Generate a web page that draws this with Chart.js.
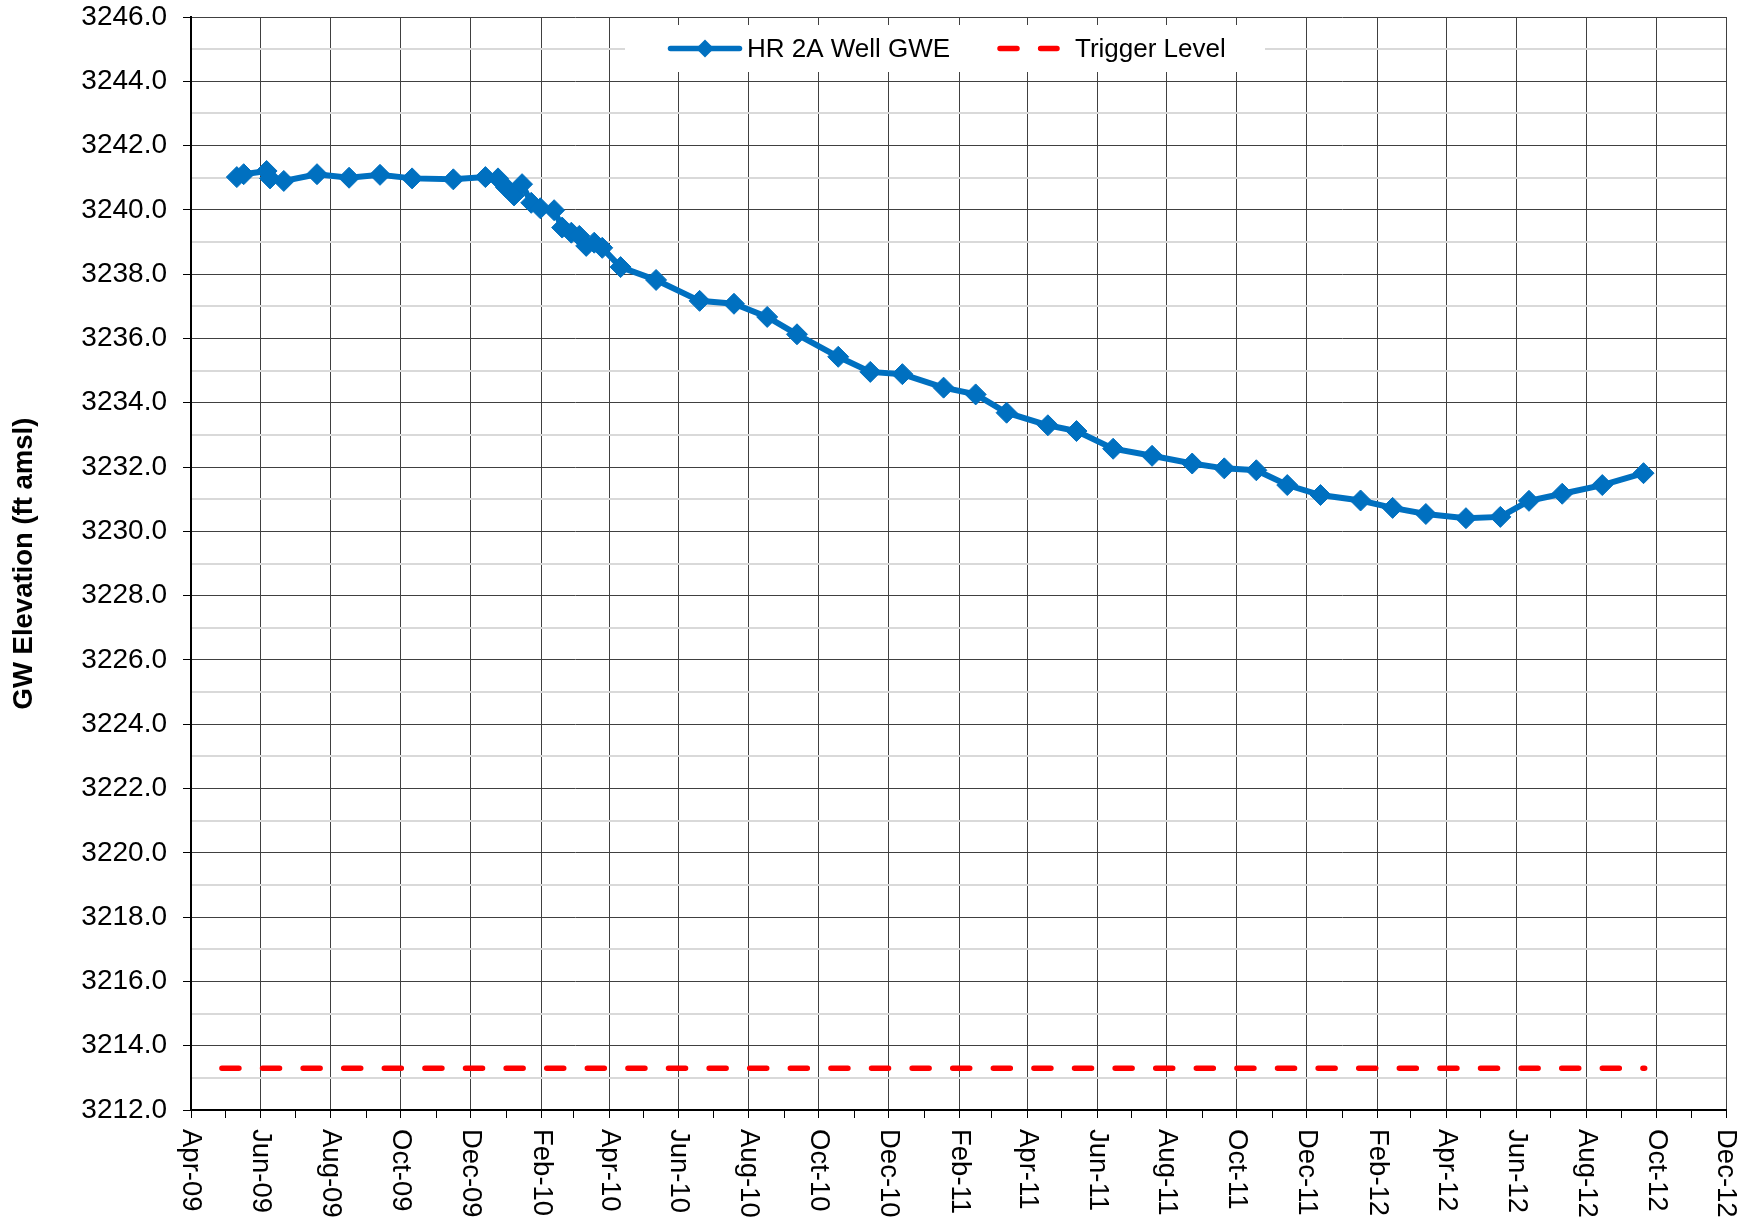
<!DOCTYPE html>
<html>
<head>
<meta charset="utf-8">
<title>HR 2A Well GWE</title>
<script src="https://cdn.jsdelivr.net/npm/chart.js@4.4.1/dist/chart.umd.min.js"></script>
<style>
    html, body { margin: 0; padding: 0; background: #fff; }
    canvas { display: block; }
</style>
</head>
<body>
<canvas id="gweChart" width="1746" height="1223"></canvas>
<script>
// Sampling dates and groundwater elevations (ft amsl)
const sampleDates = [
    '2009-05-11', '2009-05-17', '2009-06-06', '2009-06-09', '2009-06-21', '2009-07-20',
    '2009-08-17', '2009-09-13', '2009-10-11', '2009-11-16', '2009-12-14', '2009-12-25',
    '2010-01-01', '2010-01-08', '2010-01-15', '2010-01-23', '2010-01-31', '2010-02-12',
    '2010-02-19', '2010-02-27', '2010-03-06', '2010-03-12', '2010-03-19', '2010-03-26',
    '2010-04-11', '2010-05-12', '2010-06-19', '2010-07-19', '2010-08-17', '2010-09-12',
    '2010-10-18', '2010-11-15', '2010-12-13', '2011-01-18', '2011-02-15', '2011-03-14',
    '2011-04-19', '2011-05-14', '2011-06-15', '2011-07-19', '2011-08-23', '2011-09-20',
    '2011-10-18', '2011-11-14', '2011-12-13', '2012-01-17', '2012-02-14', '2012-03-14',
    '2012-04-18', '2012-05-18', '2012-06-12', '2012-07-11', '2012-08-15', '2012-09-20'
];
const gweValues = [
    3241.02, 3241.11, 3241.21, 3240.98, 3240.90, 3241.11,
    3241.00, 3241.09, 3240.98, 3240.95, 3241.02, 3240.98,
    3240.70, 3240.45, 3240.80, 3240.22, 3240.05, 3239.99,
    3239.45, 3239.29, 3239.19, 3238.88, 3238.98, 3238.82,
    3238.22, 3237.82, 3237.17, 3237.08, 3236.67, 3236.13,
    3235.43, 3234.96, 3234.89, 3234.47, 3234.26, 3233.69,
    3233.30, 3233.12, 3232.57, 3232.35, 3232.11, 3231.96,
    3231.90, 3231.44, 3231.13, 3230.96, 3230.73, 3230.54,
    3230.41, 3230.45, 3230.95, 3231.17, 3231.44, 3231.81
];

// Trigger level
const triggerDates = ['2009-04-28', '2012-09-21'];
const triggerValues = [3213.3, 3213.3];

// Axis labels
const xTickLabels = [
    'Apr-09', 'Jun-09', 'Aug-09', 'Oct-09', 'Dec-09', 'Feb-10', 'Apr-10', 'Jun-10',
    'Aug-10', 'Oct-10', 'Dec-10', 'Feb-11', 'Apr-11', 'Jun-11', 'Aug-11', 'Oct-11',
    'Dec-11', 'Feb-12', 'Apr-12', 'Jun-12', 'Aug-12', 'Oct-12', 'Dec-12'
];
const yMin = 3212;
const yMax = 3246;

const FONT = "'Liberation Sans', Arial, Helvetica, sans-serif";
const BLUE = '#0070C0';
const RED = '#FF0000';
const GRID = '#404040';
const MINOR_GRID = '#d9d9d9';

const monthNames = ['Jan', 'Feb', 'Mar', 'Apr', 'May', 'Jun', 'Jul', 'Aug', 'Sep', 'Oct', 'Nov', 'Dec'];

function labelToTime(lbl) {
    const [m, y] = lbl.split('-');
    return Date.UTC(2000 + Number(y), monthNames.indexOf(m), 1);
}

function dateToTime(s) {
    const [y, m, d] = s.split('-').map(Number);
    return Date.UTC(y, m - 1, d);
}

const xMin = labelToTime(xTickLabels[0]);
const xMax = labelToTime(xTickLabels[xTickLabels.length - 1]);
const majorTicks = new Set(xTickLabels.map(labelToTime));

// one tick per month, labels every second month
const monthTicks = [];
const cursor = new Date(xMin);
while (cursor.getTime() <= xMax) {
    monthTicks.push(cursor.getTime());
    cursor.setUTCMonth(cursor.getUTCMonth() + 1);
}

// Rotated date labels (read top to bottom)
const xLabelPlugin = {
    id: 'xLabels',
    afterDraw(chart) {
        const { ctx, chartArea } = chart;
        const xScale = chart.scales.x;
        ctx.save();
        ctx.fillStyle = '#000';
        ctx.font = `27.5px ${FONT}`;
        ctx.textAlign = 'left';
        ctx.textBaseline = 'middle';
        xTickLabels.forEach(lbl => {
            const x = xScale.getPixelForValue(labelToTime(lbl));
            ctx.save();
            ctx.translate(x, chartArea.bottom + 19);
            ctx.rotate(Math.PI / 2);
            ctx.fillText(lbl, 0, 0);
            ctx.restore();
        });
        ctx.restore();
    }
};

// Legend box inside the plot area
const legendPlugin = {
    id: 'insideLegend',
    afterDraw(chart) {
        const { ctx } = chart;
        const [gwe, trig] = chart.data.datasets;
        const left = 625, top = 25, width = 640, height = 47;
        const cy = top + height / 2;

        ctx.save();
        ctx.fillStyle = '#fff';
        ctx.fillRect(left, top, width, height);

        // GWE sample
        ctx.strokeStyle = gwe.borderColor;
        ctx.lineWidth = 5.5;
        ctx.lineCap = 'round';
        ctx.beginPath();
        ctx.moveTo(left + 45.5, cy);
        ctx.lineTo(left + 114.5, cy);
        ctx.stroke();
        ctx.fillStyle = gwe.pointBackgroundColor;
        ctx.beginPath();
        const dx = left + 80, r = 9;
        ctx.moveTo(dx - r, cy);
        ctx.lineTo(dx, cy - r);
        ctx.lineTo(dx + r, cy);
        ctx.lineTo(dx, cy + r);
        ctx.closePath();
        ctx.fill();

        // Trigger sample
        ctx.strokeStyle = trig.borderColor;
        ctx.lineWidth = trig.borderWidth;
        ctx.lineCap = 'round';
        ctx.setLineDash(trig.borderDash);
        ctx.beginPath();
        ctx.moveTo(left + 375, cy);
        ctx.lineTo(left + 432, cy);
        ctx.stroke();
        ctx.setLineDash([]);

        ctx.fillStyle = '#000';
        ctx.font = `26px ${FONT}`;
        ctx.textAlign = 'left';
        ctx.textBaseline = 'middle';
        ctx.fillText(gwe.label, left + 122, cy + 1);
        ctx.fillText(trig.label, left + 450, cy + 1);
        ctx.restore();
    }
};

new Chart(document.getElementById('gweChart'), {
    type: 'line',
    data: {
        datasets: [
            {
                label: 'HR 2A Well GWE',
                data: sampleDates.map((d, i) => ({ x: dateToTime(d), y: gweValues[i] })),
                borderColor: BLUE,
                backgroundColor: BLUE,
                borderWidth: 6,
                tension: 0,
                pointStyle: 'rectRot',
                pointRadius: 10.5,
                pointBorderWidth: 1,
                pointBackgroundColor: BLUE,
                pointBorderColor: BLUE,
                order: 1
            },
            {
                label: 'Trigger Level',
                data: triggerDates.map((d, i) => ({ x: dateToTime(d), y: triggerValues[i] })),
                borderColor: RED,
                backgroundColor: RED,
                borderWidth: 5.5,
                borderDash: [17, 23.6],
                borderCapStyle: 'round',
                pointRadius: 0,
                order: 2
            }
        ]
    },
    options: {
        responsive: false,
        devicePixelRatio: 1,
        animation: false,
        layout: { padding: { top: 17, right: 20, bottom: 0, left: 0 } },
        plugins: {
            legend: { display: false },
            tooltip: { enabled: false }
        },
        scales: {
            x: {
                type: 'linear',
                min: xMin,
                max: xMax,
                afterBuildTicks: scale => {
                    scale.ticks = monthTicks.map(v => ({ value: v }));
                },
                afterFit: scale => {
                    scale.height = 113;
                    scale.paddingLeft = 0;
                    scale.paddingRight = 0;
                },
                ticks: { display: false },
                grid: {
                    color: c => majorTicks.has(c.tick.value) ? GRID : 'rgba(0,0,0,0)',
                    tickColor: '#000',
                    tickLength: 8,
                    lineWidth: 1
                },
                border: { color: '#000', width: 2 }
            },
            y: {
                min: yMin,
                max: yMax,
                afterFit: scale => {
                    scale.width = 191;
                    scale.paddingTop = 0;
                    scale.paddingBottom = 0;
                },
                ticks: {
                    stepSize: 1,
                    autoSkip: false,
                    padding: 16,
                    color: '#000',
                    font: { family: FONT, size: 28 },
                    callback: v => v % 2 === 0 ? v.toFixed(1) : ''
                },
                grid: {
                    color: c => c.tick.value % 2 === 0 ? GRID : MINOR_GRID,
                    lineWidth: c => c.tick.value % 2 === 0 ? 1 : 2,
                    tickColor: c => c.tick.value % 2 === 0 ? '#000' : 'rgba(0,0,0,0)',
                    tickLength: 8
                },
                border: { color: '#000', width: 2 },
                title: {
                    display: true,
                    text: 'GW Elevation (ft amsl)',
                    color: '#000',
                    font: { family: FONT, size: 27.5, weight: 'bold' },
                    padding: { top: 8, bottom: 0 }
                }
            }
        }
    },
    plugins: [xLabelPlugin, legendPlugin]
});
</script>
</body>
</html>
